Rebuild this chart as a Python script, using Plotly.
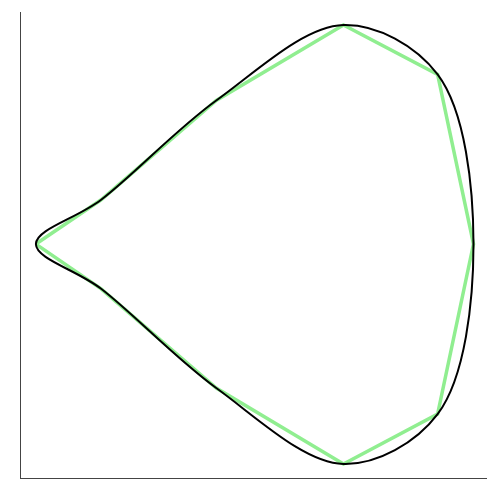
import plotly.graph_objects as go

# closed outline (first point repeated at the end)
x_vals = [0.32, 1.72, 4.19, 6.92, 8.94, 9.71, 8.94, 6.92, 4.19, 1.72, 0.32]
y_vals = [5.02, 5.97, 8.10, 9.72, 8.66, 5.02, 1.37, 0.30, 1.93, 4.06, 5.02]

fig = go.Figure()
fig.add_trace(go.Scatter(x=x_vals, y=y_vals, mode="lines",
                         line=dict(color="lightgreen", width=3.5, shape="linear"),
                         showlegend=False, hoverinfo="skip"))
fig.add_trace(go.Scatter(x=x_vals, y=y_vals, mode="lines",
                         line=dict(color="black", width=2, shape="spline"),
                         showlegend=False, hoverinfo="skip"))

fig.update_layout(
    width=483, height=483,
    margin=dict(l=13, r=4, t=4, b=13),
    plot_bgcolor="white", paper_bgcolor="white",
    xaxis=dict(range=[0, 10], showgrid=False, zeroline=False, showticklabels=False,
               ticks="", showline=True, linecolor="#444", linewidth=1),
    yaxis=dict(range=[0, 10], showgrid=False, zeroline=False, showticklabels=False,
               ticks="", showline=True, linecolor="#444", linewidth=1),
)
fig.write_html("out.html")
